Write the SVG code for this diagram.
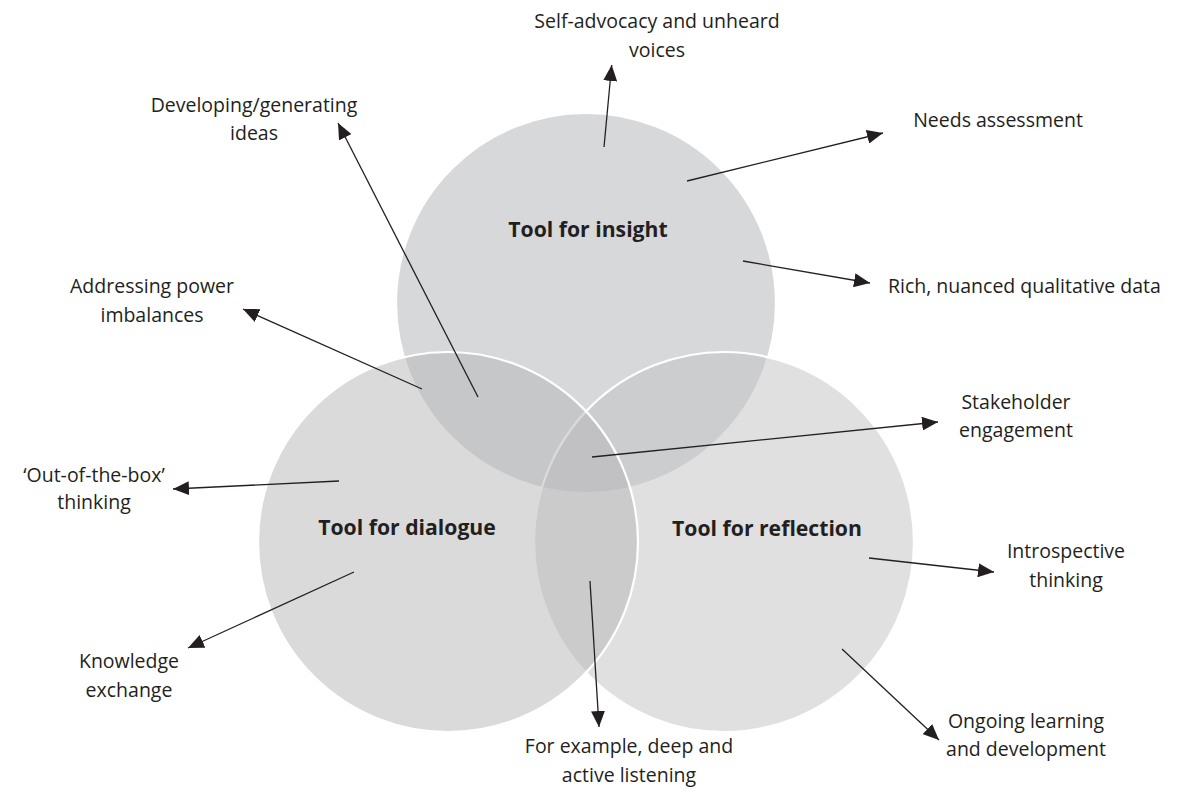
<svg xmlns="http://www.w3.org/2000/svg" width="1196" height="792" viewBox="0 0 1196 792">
  <style>
    .circle { stroke: #ffffff; stroke-width: 2.2; }
    .title { font-family: "Open Sans", "Noto Sans", sans-serif; font-size: 21.2px; font-weight: 700; fill: #231f20; text-anchor: middle; }
    .label { font-family: "Open Sans", "Noto Sans", sans-serif; font-size: 19.5px; fill: #231f20; text-anchor: middle; }
    .conn { fill: none; stroke: #231f20; stroke-width: 1.3; marker-end: url(#arrow); }
  </style>
  <defs>
    <marker id="arrow" markerUnits="userSpaceOnUse" markerWidth="16" markerHeight="14" viewBox="0 0 16 14" refX="16" refY="7" orient="auto">
      <path d="M0,0 L16,7 L0,14 Z" fill="#231f20"/>
    </marker>
  </defs>

  <rect width="1196" height="792" fill="#ffffff"/>

  <!-- three overlapping circles: the lower two are translucent so overlaps darken -->
  <g id="insight">
    <circle class="circle" cx="586" cy="303" r="190" fill="#d7d8da"/>
    <text class="title" x="588" y="237">Tool for insight</text>
  </g>
  <g id="reflection">
    <circle class="circle" cx="724" cy="542" r="190" fill="#c2c3c5" fill-opacity="0.51"/>
    <text class="title" x="767" y="536">Tool for reflection</text>
  </g>
  <g id="dialogue">
    <circle class="circle" cx="448" cy="542" r="190" fill="#b6b7b9" fill-opacity="0.51"/>
    <text class="title" x="407" y="535">Tool for dialogue</text>
  </g>

  <!-- connectors from the circles out to their labels -->
  <g id="connectors">
    <path class="conn" d="M604,147 L611.7,65"/>
    <path class="conn" d="M687,181 L883,133"/>
    <path class="conn" d="M743,261 L870,283"/>
    <path class="conn" d="M478,397 L338,123"/>
    <path class="conn" d="M422,389 L243,309"/>
    <path class="conn" d="M592,457 L938,422"/>
    <path class="conn" d="M339,481 L173,489"/>
    <path class="conn" d="M354,572 L188,648"/>
    <path class="conn" d="M590,581 L599,727"/>
    <path class="conn" d="M869,558 L994,572"/>
    <path class="conn" d="M842,649 L939,740"/>
  </g>

  <!-- outer labels -->
  <g id="self-advocacy">
    <text class="label" x="657" y="28">Self-advocacy and unheard</text>
    <text class="label" x="657" y="57">voices</text>
  </g>
  <g id="needs-assessment">
    <text class="label" x="998" y="127">Needs assessment</text>
  </g>
  <g id="rich-data">
    <text class="label" x="888" y="293" style="text-anchor:start">Rich, nuanced qualitative data</text>
  </g>
  <g id="developing-ideas">
    <text class="label" x="254" y="112">Developing/generating</text>
    <text class="label" x="254" y="140">ideas</text>
  </g>
  <g id="power-imbalances">
    <text class="label" x="152" y="293">Addressing power</text>
    <text class="label" x="152" y="322">imbalances</text>
  </g>
  <g id="stakeholder-engagement">
    <text class="label" x="1016" y="409">Stakeholder</text>
    <text class="label" x="1016" y="437">engagement</text>
  </g>
  <g id="out-of-the-box">
    <text class="label" x="94" y="482">‘Out-of-the-box’</text>
    <text class="label" x="94" y="509">thinking</text>
  </g>
  <g id="introspective-thinking">
    <text class="label" x="1066" y="558">Introspective</text>
    <text class="label" x="1066" y="587">thinking</text>
  </g>
  <g id="knowledge-exchange">
    <text class="label" x="129" y="668">Knowledge</text>
    <text class="label" x="129" y="697">exchange</text>
  </g>
  <g id="ongoing-learning">
    <text class="label" x="1026" y="728">Ongoing learning</text>
    <text class="label" x="1026" y="756">and development</text>
  </g>
  <g id="active-listening">
    <text class="label" x="629" y="753">For example, deep and</text>
    <text class="label" x="629" y="782">active listening</text>
  </g>
</svg>
